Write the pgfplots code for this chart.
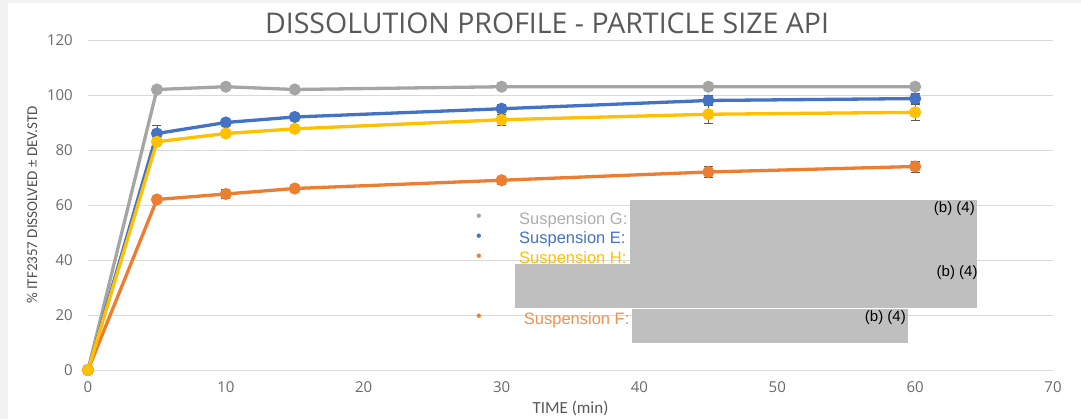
\documentclass[border=0pt]{standalone}
\usepackage{fontspec}
\setmainfont{Carlito}
\newfontfamily\titlefont{Open Sans}
\newfontfamily\arialfont{Liberation Sans}
\usepackage{pgfplots}
\pgfplotsset{compat=1.18}
\definecolor{cG}{HTML}{A5A5A5}
\definecolor{cE}{HTML}{4472C4}
\definecolor{cH}{HTML}{FFC000}
\definecolor{cF}{HTML}{ED7D31}
\definecolor{txt}{HTML}{595959}
\definecolor{redact}{HTML}{BFBFBF}

\begin{document}
\begin{tikzpicture}[x=1pt,y=1pt]
\fill[black!5] (0,0) rectangle (1081,419);
\fill[white] (8,0) rectangle (1081,416);
\useasboundingbox (0,0) rectangle (1081,419);
\begin{axis}[
  at={(88pt,49pt)}, anchor=south west, scale only axis,
  width=965pt, height=330pt,
  xmin=0, xmax=70, ymin=0, ymax=120,
  xtick={0,10,...,70}, ytick={0,20,...,120},
  axis line style={draw=none}, major tick length=0pt,
  ymajorgrids, grid style={draw=black!15, line width=0.9pt},
  clip=false,
  /pgf/number format/assume math mode=true,
  tick label style={font=\titlefont\fontsize{15}{15}\selectfont, text=txt!90},
  x tick label style={anchor=north, inner sep=0pt, yshift=-11pt},
  y tick label style={anchor=east, inner sep=0pt, xshift=-15pt},
  xlabel={TIME (min)},
  ylabel={\% ITF2357 DISSOLVED ± DEV.STD},
  xlabel style={font=\fontsize{17}{17}\selectfont, text=txt, at={(axis description cs:0.5,-0.118)}, anchor=center},
  ylabel style={font=\fontsize{15}{15}\selectfont, text=txt!90!black, at={(axis description cs:-0.058,0.5)}, anchor=center},
  every axis plot/.append style={line width=3.3pt, mark=*, mark size=4.3pt},
  error bars/error bar style={line width=0.8pt, black!65},
  error bars/error mark options={rotate=90, mark size=4.5pt, line width=0.8pt, black!65},
]
% Suspension G
\addplot[cG, mark options={fill=cG, draw=cG}] table[x=t, y=v] {
t v
0 0
5 102
10 103
15 102
30 103
45 103
60 103
};
% Suspension E
\addplot[cE, mark options={fill=cE, draw=cE},
  error bars/.cd, y dir=both, y explicit] table[x=t, y=v, y error=e] {
t v e
0 0 0
5 86 3
10 90 1
15 92 1
30 95 1.5
45 98 1.8
60 98.7 1.8
};
% Suspension F
\addplot[cF, mark options={fill=cF, draw=cF},
  error bars/.cd, y dir=both, y explicit] table[x=t, y=v, y error=e] {
t v e
0 0 0
5 62 1
10 64 1.5
15 66 0.8
30 69 1.5
45 72 2
60 74 2
};
% Suspension H
\addplot[cH, mark options={fill=cH, draw=cH},
  error bars/.cd, y dir=both, y explicit] table[x=t, y=v, y error=e] {
t v e
0 0 0
5 83 1.2
10 86 1
15 87.7 1
30 91 2
45 93 3.3
60 93.7 2.8
};
\end{axis}
% title
\node[font=\titlefont\fontsize{28.5}{28.5}\selectfont, text=txt, anchor=base] at (547,385) {DISSOLUTION PROFILE - PARTICLE SIZE API};
% legend (as in the source, partly covered)
\begin{scope}[every node/.style={inner sep=0pt}]
\node[font=\arialfont\fontsize{16}{16}\selectfont, text=cG] at (479,201.3) {•};
\node[font=\arialfont\fontsize{16}{16}\selectfont, text=cE] at (479,181.3) {•};
\node[font=\arialfont\fontsize{16}{16}\selectfont, text=cF] at (479,161.5) {•};
\node[font=\arialfont\fontsize{16}{16}\selectfont, text=cF] at (479,101) {•};
\node[font=\arialfont\fontsize{16.5}{16.5}\selectfont, text=cG!90, anchor=base west] at (519,194.3) {Suspension G:};
\node[font=\arialfont\fontsize{16.5}{16.5}\selectfont, text=cE, anchor=base west] at (519,175.3) {Suspension E:};
\node[font=\arialfont\fontsize{16.5}{16.5}\selectfont, text=cH, anchor=base west] at (519,155.3) {Suspension H:};
\node[font=\arialfont\fontsize{16.5}{16.5}\selectfont, text=cF!85!white, anchor=base west] at (523.7,94.6) {Suspension F:};
\fill[redact] (630,219) rectangle (977,154);
\fill[redact] (515,155) rectangle (977,111.4);
\fill[redact] (632,110) rectangle (908,76);
\node[font=\arialfont\fontsize{15}{15}\selectfont, anchor=east] at (975,210) {(b) (4)};
\node[font=\arialfont\fontsize{15}{15}\selectfont, anchor=east] at (977.7,146) {(b) (4)};
\node[font=\arialfont\fontsize{15}{15}\selectfont, anchor=east] at (906,101) {(b) (4)};
\end{scope}
\end{tikzpicture}
\end{document}
